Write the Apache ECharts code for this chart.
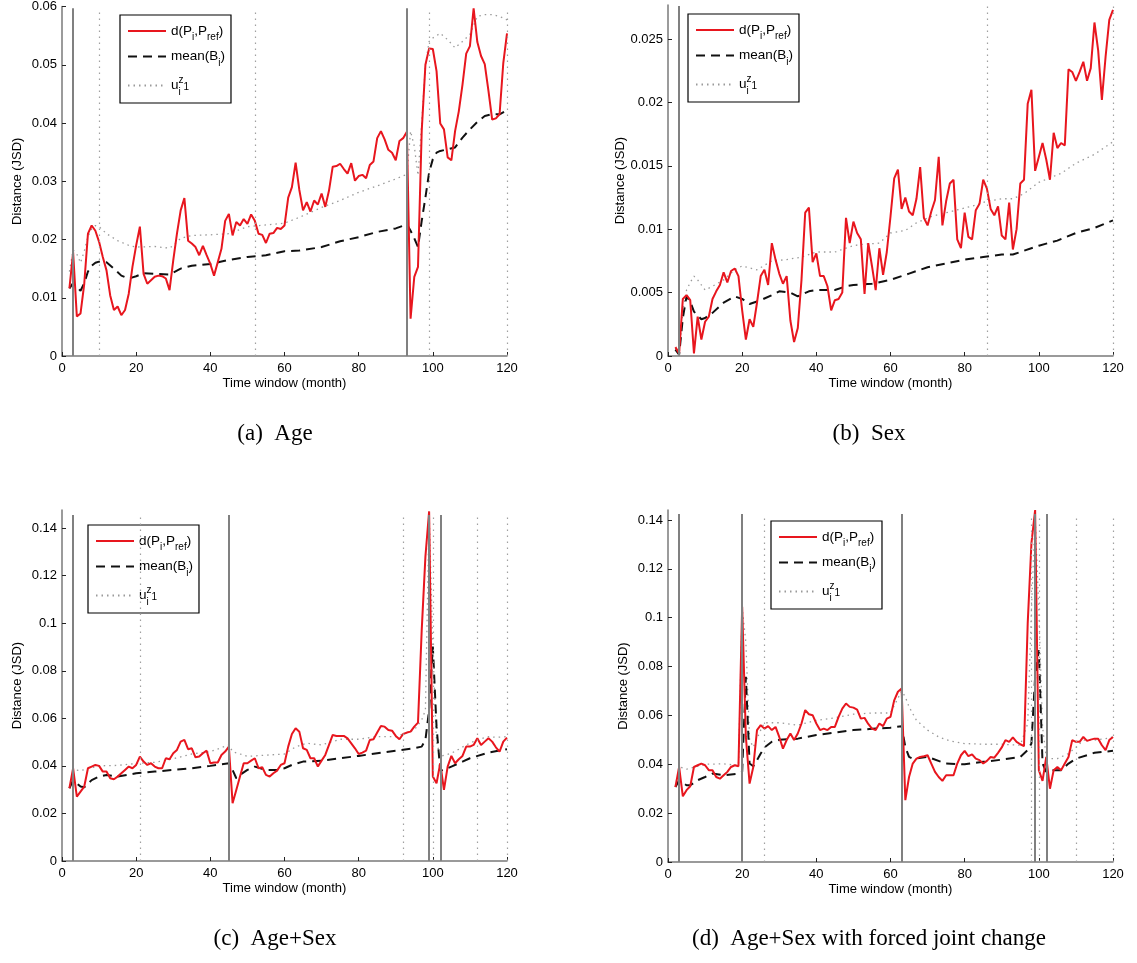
<!DOCTYPE html>
<html>
<head>
<meta charset="utf-8">
<script src="https://cdn.jsdelivr.net/npm/echarts@6/dist/echarts.min.js"></script>
<style>
html,body{margin:0;padding:0;background:#fff;}
#chart{width:1137px;height:963px;}
</style>
</head>
<body>
<div id="chart"></div>
<script>
// ---------------- DATA ----------------
// months 2..120 (time windows)
const months = Array.from({length: 119}, (_, i) => i + 2);

const captions = ['(a)  Age', '(b)  Sex', '(c)  Age+Sex', '(d)  Age+Sex with forced joint change'];
const xTicks = [0, 20, 40, 60, 80, 100, 120];
const seriesNames = ['d(P_i,P_ref)', 'mean(B_i)', 'u_i^z_1'];

// (a) Age
const aRed = [0.0116,0.0178,0.0068,0.0073,0.0124,0.021,0.0224,0.0215,0.0196,0.017,
0.0147,0.0104,0.0079,0.0085,0.007,0.0079,0.0107,0.0153,0.019,0.0222,
0.0141,0.0124,0.013,0.0136,0.0138,0.0137,0.0133,0.0113,0.0164,0.021,
0.025,0.0271,0.0198,0.0193,0.0187,0.0173,0.0189,0.0173,0.0158,0.0138,
0.0161,0.0184,0.0232,0.0244,0.0207,0.023,0.0224,0.0235,0.0227,0.0243,
0.0232,0.021,0.0208,0.0194,0.021,0.0211,0.022,0.0218,0.0224,0.0272,
0.029,0.0332,0.0285,0.025,0.0264,0.0248,0.0267,0.026,0.0279,0.0256,
0.0284,0.0325,0.0326,0.033,0.0321,0.0313,0.0331,0.0301,0.0309,0.0311,
0.0305,0.0328,0.0334,0.0374,0.0386,0.0372,0.0354,0.0349,0.0336,0.0369,
0.0374,0.0385,0.0064,0.0136,0.0153,0.0386,0.05,0.0528,0.0527,0.0489,
0.0399,0.0389,0.0341,0.0336,0.0386,0.042,0.0466,0.0519,0.0532,0.0597,
0.0539,0.0515,0.0501,0.0455,0.0406,0.0408,0.0415,0.0503,0.0554];
const aMeanX = [2,3,4,5,6,7,8,9,10,12,14,16,18,20,22,25,29,32,35,40,45,50,55,60,64,70,75,80,85,90,93,94,95,96,97,98,99,100,101,102,104,106,108,110,112,114,116,118,120];
const aMeanY = [0.0116,0.0125,0.0118,0.0112,0.0125,0.0145,0.0155,0.016,0.0162,0.0161,0.015,0.0138,0.0133,0.0137,0.0142,0.0141,0.014,0.015,0.0155,0.0158,0.0165,0.017,0.0173,0.018,0.0181,0.0187,0.0197,0.0204,0.0213,0.0219,0.0226,0.0215,0.0202,0.0187,0.0232,0.0272,0.0315,0.0338,0.0349,0.0352,0.0355,0.0358,0.0375,0.0389,0.0402,0.0412,0.0415,0.0415,0.0422];
const aUX = [2,3,4,5,6,7,8,9,10,12,15,18,20,25,29,30,32,35,40,45,50,55,60,64,70,75,80,85,90,93,94,95,96,97,98,99,100,102,104,106,108,110,112,114,116,118,120];
const aUY = [0.0145,0.0182,0.0175,0.016,0.018,0.0205,0.0218,0.0224,0.0222,0.021,0.0198,0.019,0.0187,0.0188,0.0185,0.019,0.0202,0.0207,0.0208,0.021,0.0222,0.0225,0.0228,0.0238,0.0255,0.0267,0.0281,0.0292,0.0304,0.0312,0.0386,0.036,0.031,0.04,0.05,0.054,0.0546,0.0554,0.0543,0.0529,0.054,0.0552,0.0583,0.0586,0.0586,0.0583,0.0577];
const aSolid = [3, 93];
const aDotted = [10, 52, 99, 120];

// (b) Sex
const bRed = [0.0007,0.0002,0.0045,0.0048,0.0044,0.0002,0.0031,0.0013,0.0027,0.0031,
0.0045,0.0051,0.0056,0.0066,0.0058,0.0067,0.0069,0.0063,0.0036,0.0013,
0.0029,0.0023,0.0042,0.0063,0.0068,0.0056,0.0089,0.0076,0.0065,0.0057,
0.0063,0.0028,0.0011,0.0022,0.006,0.0113,0.0117,0.0074,0.0081,0.0063,
0.0063,0.0055,0.0036,0.0044,0.0045,0.005,0.0109,0.0089,0.0106,0.0097,
0.0092,0.0049,0.0089,0.0071,0.0052,0.0085,0.0064,0.0082,0.011,0.014,
0.0147,0.0116,0.0125,0.0114,0.0111,0.0124,0.0149,0.0109,0.0103,0.0114,
0.0123,0.0157,0.0103,0.0122,0.0136,0.0139,0.0092,0.0085,0.0113,0.0094,
0.0092,0.0115,0.012,0.0139,0.0132,0.0116,0.0111,0.0118,0.0095,0.0092,
0.0121,0.0084,0.01,0.0136,0.0139,0.0199,0.021,0.0146,0.0157,0.0168,
0.0155,0.0139,0.0176,0.0164,0.0168,0.0166,0.0226,0.0224,0.0217,0.0224,
0.0232,0.0217,0.0227,0.0263,0.0241,0.0202,0.0236,0.0265,0.0273];
const bMeanX = [2,3,4,5,6,7,8,9,10,12,15,18,20,22,25,28,30,33,35,38,40,45,48,50,55,60,65,70,75,80,85,90,93,95,100,105,110,115,120];
const bMeanY = [0.0005,0.0001,0.003,0.0047,0.0043,0.0035,0.0032,0.0029,0.003,0.0034,0.0042,0.0047,0.0045,0.0041,0.0044,0.0048,0.0051,0.005,0.0047,0.0051,0.0052,0.0052,0.0055,0.0056,0.0057,0.006,0.0065,0.007,0.0073,0.0076,0.0078,0.008,0.008,0.0082,0.0087,0.0091,0.0097,0.0101,0.0107];
const bUX = [2,3,4,5,6,7,8,10,12,15,18,20,24,28,32,36,40,45,50,52,57,60,64,67,71,75,79,83,86,90,93,96,100,106,110,115,120];
const bUY = [0.0006,0.0001,0.0035,0.0052,0.0058,0.0063,0.006,0.0052,0.0055,0.006,0.0068,0.0071,0.0068,0.0075,0.0076,0.0078,0.0082,0.0082,0.0087,0.0088,0.0089,0.0097,0.0099,0.0105,0.011,0.0113,0.0116,0.0119,0.0122,0.0124,0.0124,0.0128,0.0137,0.0144,0.0152,0.0159,0.0169];
const bSolid = [3];
const bDotted = [86, 120];

// (c) Age+Sex
const cRed = [0.0306,0.039,0.0271,0.0292,0.0313,0.039,0.0397,0.0404,0.04,0.0376,
0.0376,0.0348,0.0344,0.0355,0.0369,0.0383,0.0397,0.039,0.0404,0.0439,
0.0418,0.0404,0.0411,0.0397,0.039,0.039,0.0432,0.0428,0.0453,0.0467,
0.0502,0.0509,0.047,0.0474,0.0436,0.0439,0.0453,0.0464,0.0411,0.0414,
0.0414,0.0446,0.046,0.0481,0.0243,0.0299,0.0355,0.0411,0.0411,0.0422,
0.0432,0.039,0.0394,0.0362,0.0355,0.0369,0.038,0.0404,0.0411,0.0481,
0.0534,0.0558,0.0544,0.0474,0.0467,0.0432,0.0432,0.0397,0.0422,0.0446,
0.0488,0.053,0.0526,0.0526,0.0526,0.0516,0.0495,0.0474,0.045,0.0456,
0.0464,0.0509,0.0512,0.054,0.0568,0.0565,0.0551,0.0548,0.0526,0.0512,
0.0534,0.054,0.0544,0.0565,0.0582,0.097,0.128,0.147,0.0355,0.0327,
0.0411,0.0299,0.0397,0.0442,0.0411,0.0428,0.0442,0.0481,0.0481,0.0488,
0.0516,0.0488,0.0502,0.0516,0.0502,0.0478,0.046,0.0502,0.0519];
const cMeanX = [2,3,5,6,8,10,12,15,20,25,30,35,40,45,46,47,48,50,52,55,58,60,62,65,70,75,80,85,90,95,97,98,99,100,101,102,103,105,108,110,115,120];
const cMeanY = [0.0306,0.034,0.0313,0.031,0.034,0.0355,0.0362,0.0355,0.0369,0.0376,0.0383,0.039,0.04,0.0411,0.0383,0.0348,0.0362,0.0383,0.0397,0.0383,0.0383,0.039,0.0404,0.0418,0.0422,0.0432,0.0442,0.0453,0.0464,0.0474,0.0481,0.0509,0.0635,0.0902,0.0565,0.038,0.0383,0.0397,0.0418,0.0432,0.0456,0.047];
const cUX = [2,3,5,10,15,20,25,30,35,40,45,46,50,55,60,63,66,70,75,80,85,90,95,97,98,99,100,101,102,105,107,109,112,115,117,120];
const cUY = [0.031,0.0385,0.038,0.04,0.0402,0.041,0.0415,0.043,0.045,0.046,0.0488,0.046,0.044,0.0445,0.045,0.048,0.0495,0.0488,0.0512,0.0512,0.0523,0.0523,0.0551,0.0593,0.0635,0.147,0.09,0.05,0.044,0.0453,0.047,0.0488,0.051,0.0523,0.052,0.0523];
const cSolid = [3, 45, 99, 102];
const cDotted = [21, 92, 100, 112, 120];

// (d) Age+Sex with forced joint change
const dRed = [0.0307,0.0389,0.0269,0.0294,0.031,0.0389,0.0396,0.0403,0.0396,0.0376,
0.0376,0.0348,0.0341,0.0355,0.0369,0.0389,0.0396,0.0392,0.1045,0.0512,
0.0321,0.0389,0.054,0.056,0.0546,0.0556,0.054,0.0553,0.0512,0.0464,
0.0499,0.0526,0.0499,0.0526,0.0567,0.0622,0.0605,0.0601,0.0567,0.054,
0.0546,0.054,0.0553,0.0553,0.0594,0.0628,0.0649,0.0635,0.0632,0.0624,
0.0587,0.059,0.0565,0.0546,0.054,0.0567,0.0556,0.0587,0.0594,0.0662,
0.0697,0.071,0.0253,0.0348,0.0403,0.0423,0.043,0.0433,0.0437,0.0403,
0.0369,0.0348,0.0332,0.0355,0.0355,0.0355,0.0403,0.0437,0.0455,0.0433,
0.0441,0.0423,0.0417,0.0403,0.0414,0.043,0.0427,0.0447,0.0469,0.0499,
0.0492,0.051,0.0492,0.0482,0.0474,0.0977,0.1304,0.1441,0.0376,0.0332,
0.043,0.03,0.0376,0.0389,0.0376,0.0403,0.043,0.0499,0.0492,0.0492,
0.0512,0.0496,0.0501,0.0505,0.0505,0.0478,0.0458,0.0499,0.0512];
const dMeanX = [2,3,5,6,8,10,12,15,19,20,21,22,23,24,25,26,28,30,35,40,45,50,55,60,63,64,65,66,70,75,80,85,90,95,97,98,99,100,101,102,103,106,108,110,115,120];
const dMeanY = [0.0307,0.0335,0.0314,0.0314,0.0335,0.0348,0.0362,0.0355,0.0362,0.037,0.0758,0.0403,0.0392,0.0417,0.0444,0.0469,0.0492,0.05,0.0505,0.052,0.053,0.054,0.0545,0.055,0.0556,0.0471,0.043,0.0423,0.043,0.0403,0.04,0.041,0.0419,0.043,0.0458,0.0485,0.0758,0.0867,0.0403,0.0369,0.0376,0.0376,0.0403,0.0423,0.0447,0.0455];
const dUX = [2,3,5,10,15,19,20,21,22,23,25,26,30,35,40,45,50,55,60,63,64,65,67,70,73,76,80,85,90,95,97,98,99,100,101,102,103,105,108,110,112,115,118,120];
const dUY = [0.031,0.039,0.038,0.04,0.0402,0.0395,0.104,0.09,0.05,0.047,0.054,0.057,0.057,0.056,0.058,0.059,0.0605,0.061,0.061,0.07,0.0676,0.0635,0.058,0.054,0.0512,0.0496,0.0485,0.0482,0.0482,0.0478,0.0567,0.103,0.1414,0.103,0.0553,0.043,0.0423,0.0423,0.0444,0.0469,0.0499,0.0499,0.0505,0.0512];
const dSolid = [3, 20, 63, 99, 102];
const dDotted = [26, 98, 100, 110, 120];

// ---------------- CHART ----------------
const panels = [
  {red: aRed, mx: aMeanX, my: aMeanY, ux: aUX, uy: aUY, solid: aSolid, dotted: aDotted,
   grid: {left: 62, top: 5, width: 445, height: 351}, ymax: 0.06, yint: 0.01, ytop: 0.0597,
   legend: {left: 120, top: 15}, cap: [275, 434]},
  {red: bRed, mx: bMeanX, my: bMeanY, ux: bUX, uy: bUY, solid: bSolid, dotted: bDotted,
   grid: {left: 668, top: 5, width: 445, height: 351}, ymax: 0.02768, yint: 0.005, ytop: 0.0276,
   legend: {left: 688, top: 14}, cap: [869, 434]},
  {red: cRed, mx: cMeanX, my: cMeanY, ux: cUX, uy: cUY, solid: cSolid, dotted: cDotted,
   grid: {left: 62, top: 510, width: 445, height: 351}, ymax: 0.1476, yint: 0.02, ytop: 0.1455,
   legend: {left: 88, top: 525}, cap: [275, 939]},
  {red: dRed, mx: dMeanX, my: dMeanY, ux: dUX, uy: dUY, solid: dSolid, dotted: dDotted,
   grid: {left: 668, top: 510, width: 445, height: 352}, ymax: 0.1441, yint: 0.02, ytop: 0.1425,
   legend: {left: 771, top: 521}, cap: [869, 939]}
];

const FONT = 'Liberation Sans';
const richStyles = {
  n: {fontSize: 13.5, fontFamily: FONT, color: '#000'},
  sb: {fontSize: 10, fontFamily: FONT, color: '#000', padding: [13, 0, 0, 0]},
  sbz: {fontSize: 10, fontFamily: FONT, color: '#000', padding: [13, 0, 0, 0], width: 0.1},
  sp: {fontSize: 10, fontFamily: FONT, color: '#000', padding: [0, 0, 11, 0]},
  s1: {fontSize: 10, fontFamily: FONT, color: '#000', padding: [3, 0, 0, 0]}
};
const legendText = {
  'd(P_i,P_ref)': '{n|d(P}{sb|i}{n|,P}{sb|ref}{n|)}',
  'mean(B_i)': '{n|mean(B}{sb|i}{n|)}',
  'u_i^z_1': '{n|u}{sbz|i}{sp|z}{s1|1}'
};

const zip = (xs, ys) => xs.map((x, i) => [x, ys[i]]);

const option = {
  animation: false,
  backgroundColor: '#fff',
  grid: [], xAxis: [], yAxis: [], series: [], legend: [], graphic: []
};

panels.forEach((p, k) => {
  option.grid.push(Object.assign({containLabel: false}, p.grid));
  option.xAxis.push({
    type: 'value', gridIndex: k, min: 0, max: 120, interval: 20,
    name: 'Time window (month)', nameLocation: 'middle', nameGap: 21,
    nameTextStyle: {fontSize: 13, fontFamily: FONT, color: '#000'},
    axisLine: {show: true, lineStyle: {color: '#7a7a7a', width: 1.5}},
    axisTick: {show: true, inside: true, length: 4, lineStyle: {color: '#222'}},
    axisLabel: {fontSize: 13, fontFamily: FONT, color: '#000', margin: 6},
    splitLine: {show: false}
  });
  option.yAxis.push({
    type: 'value', gridIndex: k, min: 0, max: p.ymax, interval: p.yint,
    name: 'Distance (JSD)', nameLocation: 'middle', nameGap: 38,
    nameTextStyle: {fontSize: 13, fontFamily: FONT, color: '#000'},
    axisLine: {show: true, lineStyle: {color: '#7a7a7a', width: 1.5}},
    axisTick: {show: true, inside: true, length: 4, lineStyle: {color: '#222'}},
    axisLabel: {fontSize: 13, fontFamily: FONT, color: '#000', margin: 5, showMaxLabel: p.ymax === 0.06,
      formatter: v => String(+v.toFixed(4))},
    splitLine: {show: false}
  });
  const mlData = [];
  p.solid.forEach(x => mlData.push([
    {coord: [x, 0], lineStyle: {color: '#808080', width: 2, type: 'solid'}},
    {coord: [x, p.ytop]}
  ]));
  p.dotted.forEach(x => mlData.push([
    {coord: [x, 0], lineStyle: {color: '#a0a0a0', width: 1.2, type: [1.5, 4.5]}},
    {coord: [x, p.ytop]}
  ]));
  option.series.push({
    type: 'line', name: seriesNames[1], xAxisIndex: k, yAxisIndex: k,
    data: zip(p.mx, p.my), symbol: 'none', z: 3,
    lineStyle: {color: '#111', width: 2, type: [9, 6]}, itemStyle: {color: '#111'}
  });
  option.series.push({
    type: 'line', name: seriesNames[2], xAxisIndex: k, yAxisIndex: k,
    data: zip(p.ux, p.uy), symbol: 'none', z: 2,
    lineStyle: {color: '#9a9a9a', width: 1.3, type: [1.5, 4]}, itemStyle: {color: '#9a9a9a'},
    markLine: {silent: true, symbol: ['none', 'none'], label: {show: false}, animation: false,
      emphasis: {disabled: true}, data: mlData}
  });
  option.series.push({
    type: 'line', name: seriesNames[0], xAxisIndex: k, yAxisIndex: k,
    data: zip(months, p.red), symbol: 'none', z: 4,
    lineStyle: {color: '#e8161e', width: 2}, itemStyle: {color: '#e8161e'}
  });
  option.legend.push({
    left: p.legend.left, top: p.legend.top, orient: 'vertical',
    data: seriesNames, selectedMode: false,
    backgroundColor: '#fff', borderColor: '#000', borderWidth: 1.2,
    padding: [9, 6, 6, 7], itemWidth: 38, itemHeight: 14, itemGap: 7,
    itemStyle: {opacity: 0},
    textStyle: {fontSize: 13.5, fontFamily: FONT, color: '#000', rich: richStyles},
    formatter: name => legendText[name]
  });
  option.graphic.push({
    type: 'text', x: p.cap[0], y: p.cap[1],
    style: {text: captions[k], textAlign: 'center', textVerticalAlign: 'middle',
      font: '23px "Liberation Serif"', fill: '#000'}
  });
});

const chart = echarts.init(document.getElementById('chart'), null, {renderer: 'canvas'});
chart.setOption(option);
</script>
</body>
</html>
